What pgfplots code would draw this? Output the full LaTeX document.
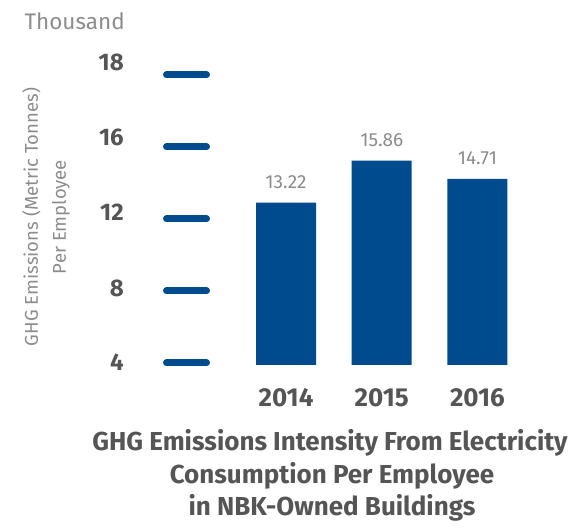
\documentclass[border=0pt]{standalone}
\usepackage{pgfplots}
\pgfplotsset{compat=1.18}
\usepackage{fontspec}
\setmainfont{Fira Sans}
\definecolor{barblue}{RGB}{0,75,141}
\definecolor{darktxt}{RGB}{85,85,85}
\definecolor{lighttxt}{RGB}{140,140,140}
\begin{document}
\begin{tikzpicture}[x=1pt,y=1pt]
\useasboundingbox (0pt,0pt) rectangle (576pt,529pt);
\begin{axis}[
  at={(206.5pt,164pt)}, anchor=south west,
  scale only axis, width=350pt, height=303.6pt,
  xmin=-0.831, xmax=2.826, ymin=3, ymax=22.1,
  /pgf/number format/assume math mode=true,
  axis line style={draw=none},
  ybar, bar width=60pt,
  xtick={0,1,2}, xticklabels={2014,2015,2016},
  xtick style={draw=none},
  xticklabel style={anchor=base, yshift=-37pt, font=\fontsize{26}{26}\selectfont\bfseries, text=darktxt},
  ytick={3.189,7.844,12.626,17.344,22.062},
  yticklabels={4,8,12,16,18},
  ytick pos=left,
  tick align=outside,
  ytick style={draw=none},
  yticklabel style={xshift=-75pt, font=\fontsize{24}{24}\selectfont\bfseries, text=darktxt},
  extra y ticks={3.126,7.655,12.185,16.715,21.245},
  extra y tick labels={},
  extra y tick style={major tick length=40pt, ytick style={draw=barblue, line width=7pt, line cap=round}},
  nodes near coords,
  nodes near coords style={anchor=base, yshift=14pt, font=\fontsize{19}{19}\selectfont, text=lighttxt,
    /pgf/number format/fixed, /pgf/number format/fixed zerofill, /pgf/number format/precision=2},
  clip=false,
]
\addplot[fill=barblue, draw=none] coordinates {(0,13.22) (1,15.86) (2,14.71)};
\end{axis}
\node[anchor=base west, font=\fontsize{22.5}{22.5}\selectfont, text=lighttxt] at (21pt,499pt) {Thousand};
\node[rotate=90, align=center, font=\fontsize{18.5}{28}\selectfont, text=lighttxt] at (46pt,312pt) {GHG Emissions (Metric Tonnes)\\Per Employee};
\begin{scope}[every node/.style={anchor=base, font=\fontsize{26}{26}\selectfont\bfseries, text=darktxt}]
\node at (330pt,78pt) {GHG Emissions Intensity From Electricity};
\node at (332pt,45pt) {Consumption Per Employee};
\node at (332pt,13pt) {in NBK-Owned Buildings};
\end{scope}
\end{tikzpicture}
\end{document}
